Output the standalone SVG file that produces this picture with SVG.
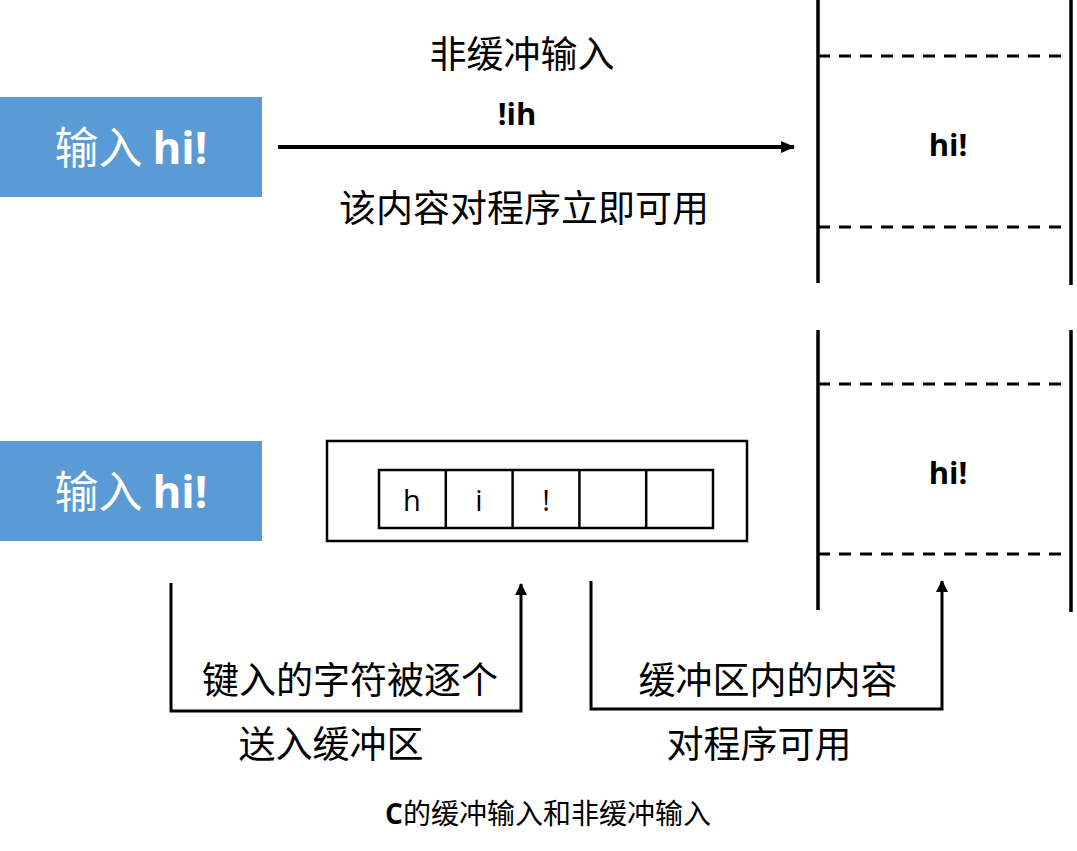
<svg xmlns="http://www.w3.org/2000/svg" width="1077" height="851" viewBox="0 0 1077 851">
<style>
.cn{font-family:"Noto Sans CJK SC","Liberation Sans",sans-serif;font-size:37px;fill:#000;text-anchor:middle}
.blue{fill:#5b9bd5}
.bt{font-family:"Noto Sans CJK SC","Open Sans",sans-serif;font-size:44px;fill:#fff;text-anchor:middle}
.bold{font-family:"Open Sans","Liberation Sans",sans-serif;font-weight:bold;font-size:31px;fill:#000;text-anchor:middle}
.cell{font-family:"Open Sans","Liberation Sans",sans-serif;font-size:29px;fill:#000;text-anchor:middle}
.solid{stroke:#000;stroke-width:3.5;fill:none}
.dash{stroke:#000;stroke-width:3;stroke-dasharray:12,9;fill:none}
.conn{stroke:#000;stroke-width:3;fill:none}
.box{fill:none;stroke:#000;stroke-width:2.5}
</style>
<defs>
<marker id="ah" markerWidth="12" markerHeight="12" refX="11" refY="6" orient="auto" markerUnits="userSpaceOnUse" viewBox="0 0 12 12">
<path d="M0,0 L12,6 L0,12 z" fill="#000"/>
</marker>
<marker id="ah2" markerWidth="14" markerHeight="12" refX="13" refY="6" orient="auto" markerUnits="userSpaceOnUse" viewBox="0 0 14 12">
<path d="M0,0 L14,6 L0,12 z" fill="#000"/>
</marker>
</defs>
<rect width="1077" height="851" fill="#fff"/>

<g id="input-top">
<rect class="blue" x="0" y="97" width="262" height="100"/>
<text class="bt" x="131" y="164">输入 <tspan font-family="Open Sans,Liberation Sans,sans-serif" font-weight="bold">hi!</tspan></text>
</g>

<g id="input-bottom">
<rect class="blue" x="0" y="441" width="262" height="100"/>
<text class="bt" x="131" y="508">输入 <tspan font-family="Open Sans,Liberation Sans,sans-serif" font-weight="bold">hi!</tspan></text>
</g>

<g id="label-unbuffered">
<text class="cn" x="522" y="68">非缓冲输入</text>
<text class="bold" x="517" y="125">!ih</text>
<text class="cn" x="524" y="222">该内容对程序立即可用</text>
</g>

<g id="program-top">
<line class="solid" x1="818" y1="0" x2="818" y2="283"/>
<line class="solid" x1="1071" y1="0" x2="1071" y2="285"/>
<line class="dash" x1="818" y1="56" x2="1071" y2="56"/>
<line class="dash" x1="818" y1="227" x2="1071" y2="227"/>
<text class="bold" x="948" y="156">hi!</text>
</g>

<g id="program-bottom">
<line class="solid" x1="818" y1="330" x2="818" y2="610"/>
<line class="solid" x1="1071" y1="330" x2="1071" y2="612"/>
<line class="dash" x1="818" y1="384" x2="1071" y2="384"/>
<line class="dash" x1="818" y1="554" x2="1071" y2="554"/>
<text class="bold" x="948" y="484">hi!</text>
</g>

<g id="buffer">
<rect class="box" x="327" y="441" width="420" height="100"/>
<rect class="box" x="379" y="470" width="334" height="58"/>
<line class="box" x1="445.8" y1="470" x2="445.8" y2="528"/>
<line class="box" x1="512.6" y1="470" x2="512.6" y2="528"/>
<line class="box" x1="579.4" y1="470" x2="579.4" y2="528"/>
<line class="box" x1="646.2" y1="470" x2="646.2" y2="528"/>
<text class="cell" x="412" y="511">h</text>
<text class="cell" x="479" y="511">i</text>
<text class="cell" x="546" y="511">!</text>
</g>

<g id="label-buffer-in">
<text class="cn" x="350" y="694">键入的字符被逐个</text>
<text class="cn" x="331" y="758">送入缓冲区</text>
</g>

<g id="label-buffer-out">
<text class="cn" x="768" y="694">缓冲区内的内容</text>
<text class="cn" x="759" y="758">对程序可用</text>
</g>

<g id="connectors">
<line x1="278" y1="147" x2="794" y2="147" stroke="#000" stroke-width="4" marker-end="url(#ah2)"/>
<polyline class="conn" points="171,583 171,711 521,711 521,584" marker-end="url(#ah)"/>
<polyline class="conn" points="591,581 591,709 942,709 942,581" marker-end="url(#ah)"/>
</g>

<g id="caption">
<text x="548" y="824" font-family="Noto Sans CJK SC,sans-serif" font-size="28" text-anchor="middle" fill="#000"><tspan font-family="Open Sans,Liberation Sans,sans-serif" font-weight="bold">C</tspan>的缓冲输入和非缓冲输入</text>
</g>
</svg>
